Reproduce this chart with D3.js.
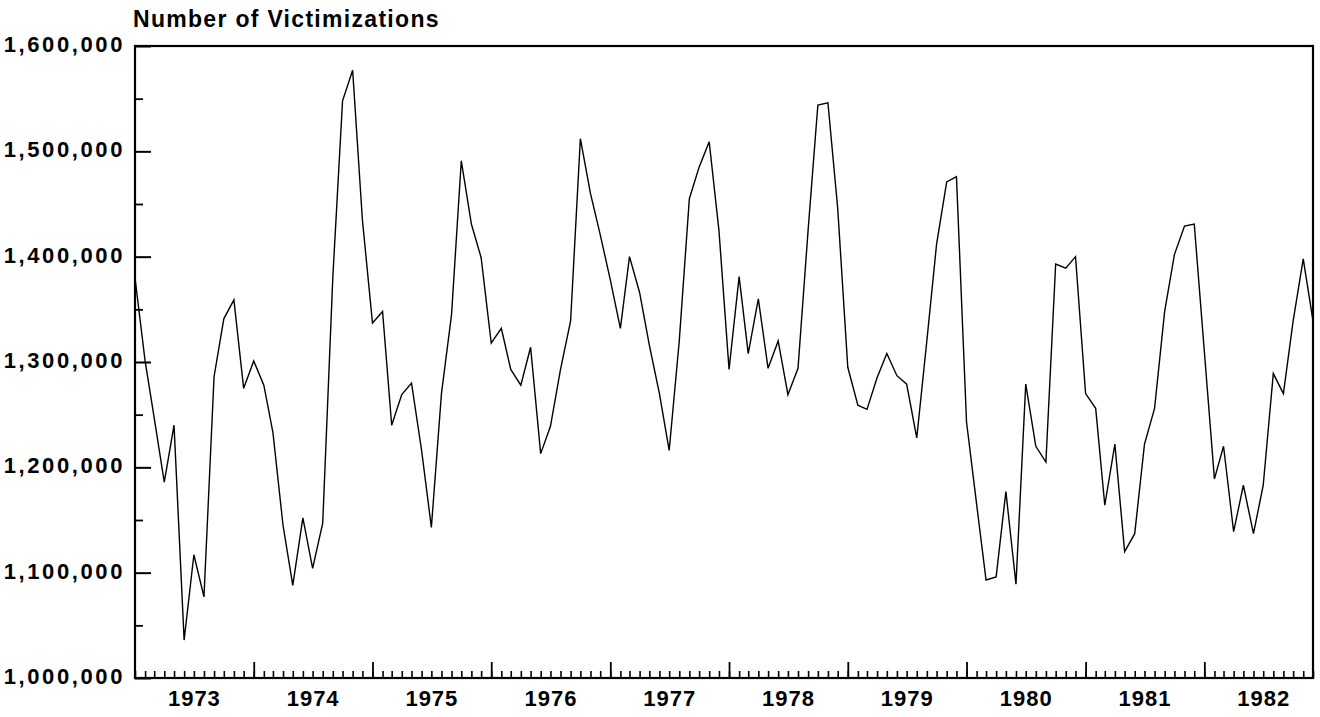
<!DOCTYPE html>
<html>
<head>
<meta charset="utf-8">
<script src="https://cdn.jsdelivr.net/npm/d3@7"></script>
<style>
  body { margin: 0; background: #fff; }
</style>
</head>
<body>
<div class="main"></div>
<script>
// Chart settings
const width = 1320;
const height = 717;
const margin = { top: 46, right: 7, bottom: 39, left: 135 };

// Data (monthly, Jan 1973 - Dec 1982)
const title = 'Number of Victimizations';
const years = [1973, 1974, 1975, 1976, 1977, 1978, 1979, 1980, 1981, 1982];
const yTicks = [1000000, 1100000, 1200000, 1300000, 1400000, 1500000, 1600000];
const yMinorTicks = [1050000, 1150000, 1250000, 1350000, 1450000, 1550000];
const victimizations = [
  1380000, 1301000, 1247000, 1186000, 1240000, 1036000, 1117000, 1077000, 1286000, 1341000, 1359000, 1275000,
  1301000, 1278000, 1233000, 1145000, 1088000, 1152000, 1104000, 1147000, 1380000, 1548000, 1577000, 1435000,
  1337000, 1348000, 1240000, 1269000, 1280000, 1216000, 1143000, 1270000, 1345000, 1491000, 1431000, 1399000,
  1318000, 1332000, 1293000, 1278000, 1314000, 1213000, 1239000, 1293000, 1339000, 1512000, 1460000, 1421000,
  1378000, 1332000, 1400000, 1366000, 1316000, 1270000, 1216000, 1320000, 1455000, 1485000, 1509000, 1425000,
  1293000, 1381000, 1308000, 1360000, 1294000, 1320000, 1269000, 1294000, 1425000, 1544000, 1546000, 1446000,
  1295000, 1259000, 1255000, 1285000, 1308000, 1287000, 1279000, 1228000, 1320000, 1412000, 1471000, 1476000,
  1243000, 1165000, 1093000, 1096000, 1177000, 1089000, 1279000, 1220000, 1205000, 1393000, 1389000, 1400000,
  1270000, 1256000, 1164000, 1222000, 1120000, 1137000, 1222000, 1256000, 1348000, 1402000, 1429000, 1431000,
  1310000, 1189000, 1220000, 1139000, 1183000, 1137000, 1183000, 1289000, 1270000, 1339000, 1398000, 1339000
];

const data = victimizations.map((v, i) => ({ date: new Date(years[0], i, 1), value: v }));

const font = '"Liberation Sans", Arial, sans-serif';

const svg = d3.select('.main')
  .append('svg')
  .attr('width', width)
  .attr('height', height)
  .style('font-family', font)
  .style('font-weight', 'bold');

// Scales
const x = d3.scaleTime()
  .domain([data[0].date, data[data.length - 1].date])
  .range([margin.left, width - margin.right]);

const y = d3.scaleLinear()
  .domain([1000000, 1600000])
  .range([height - margin.bottom, margin.top]);

// Title
svg.append('text')
  .attr('x', 133)
  .attr('y', 27)
  .attr('font-size', 23)
  .attr('letter-spacing', 1.3)
  .text(title);

// Vertical axis: major ticks with labels
svg.append('g')
  .attr('transform', `translate(${margin.left}, 0)`)
  .call(d3.axisLeft(y).tickValues(yTicks).tickFormat(d3.format(',')).tickSize(-16).tickSizeOuter(0).tickPadding(10))
  .call(g => g.select('.domain').remove())
  .call(g => g.selectAll('line').attr('stroke', '#000').attr('stroke-width', 2))
  .call(g => g.selectAll('text')
    .attr('fill', '#000')
    .attr('font-size', 22)
    .attr('font-family', font)
    .attr('font-weight', 'bold')
    .attr('letter-spacing', 2.6)
    .attr('dy', '0.25em'));

// Vertical axis: minor ticks
svg.append('g')
  .attr('transform', `translate(${margin.left}, 0)`)
  .call(d3.axisLeft(y).tickValues(yMinorTicks).tickFormat('').tickSize(-8).tickSizeOuter(0))
  .call(g => g.select('.domain').remove())
  .call(g => g.selectAll('line').attr('stroke', '#000').attr('stroke-width', 1.8));

// Horizontal axis: month ticks
svg.append('g')
  .attr('transform', `translate(0, ${height - margin.bottom})`)
  .call(d3.axisBottom(x).ticks(d3.timeMonth.every(1)).tickFormat('').tickSize(-7).tickSizeOuter(0))
  .call(g => g.select('.domain').remove())
  .call(g => g.selectAll('line').attr('stroke', '#000').attr('stroke-width', 1.6));

// Horizontal axis: year ticks
svg.append('g')
  .attr('transform', `translate(0, ${height - margin.bottom})`)
  .call(d3.axisBottom(x).tickValues(years.slice(1).map(yr => new Date(yr, 0, 1))).tickFormat('').tickSize(-16).tickSizeOuter(0))
  .call(g => g.select('.domain').remove())
  .call(g => g.selectAll('line').attr('stroke', '#000').attr('stroke-width', 1.8));

// Year labels, centred on each year
svg.append('g')
  .attr('transform', `translate(0, ${height - margin.bottom})`)
  .call(d3.axisBottom(x).tickValues(years.map(yr => new Date(yr, 6, 1))).tickFormat(d3.timeFormat('%Y')).tickSize(0).tickPadding(12))
  .call(g => g.select('.domain').remove())
  .call(g => g.selectAll('text')
    .attr('fill', '#000')
    .attr('font-size', 22)
    .attr('font-family', font)
    .attr('font-weight', 'bold')
    .attr('letter-spacing', 1));

// Frame
svg.append('rect')
  .attr('x', margin.left)
  .attr('y', margin.top)
  .attr('width', width - margin.left - margin.right)
  .attr('height', height - margin.top - margin.bottom)
  .attr('fill', 'none')
  .attr('stroke', '#000')
  .attr('stroke-width', 2.2);

// Line
const line = d3.line()
  .x(d => x(d.date))
  .y(d => y(d.value));

svg.append('path')
  .datum(data)
  .attr('fill', 'none')
  .attr('stroke', '#000')
  .attr('stroke-width', 1.4)
  .attr('stroke-linejoin', 'miter')
  .attr('d', line);
</script>
</body>
</html>
